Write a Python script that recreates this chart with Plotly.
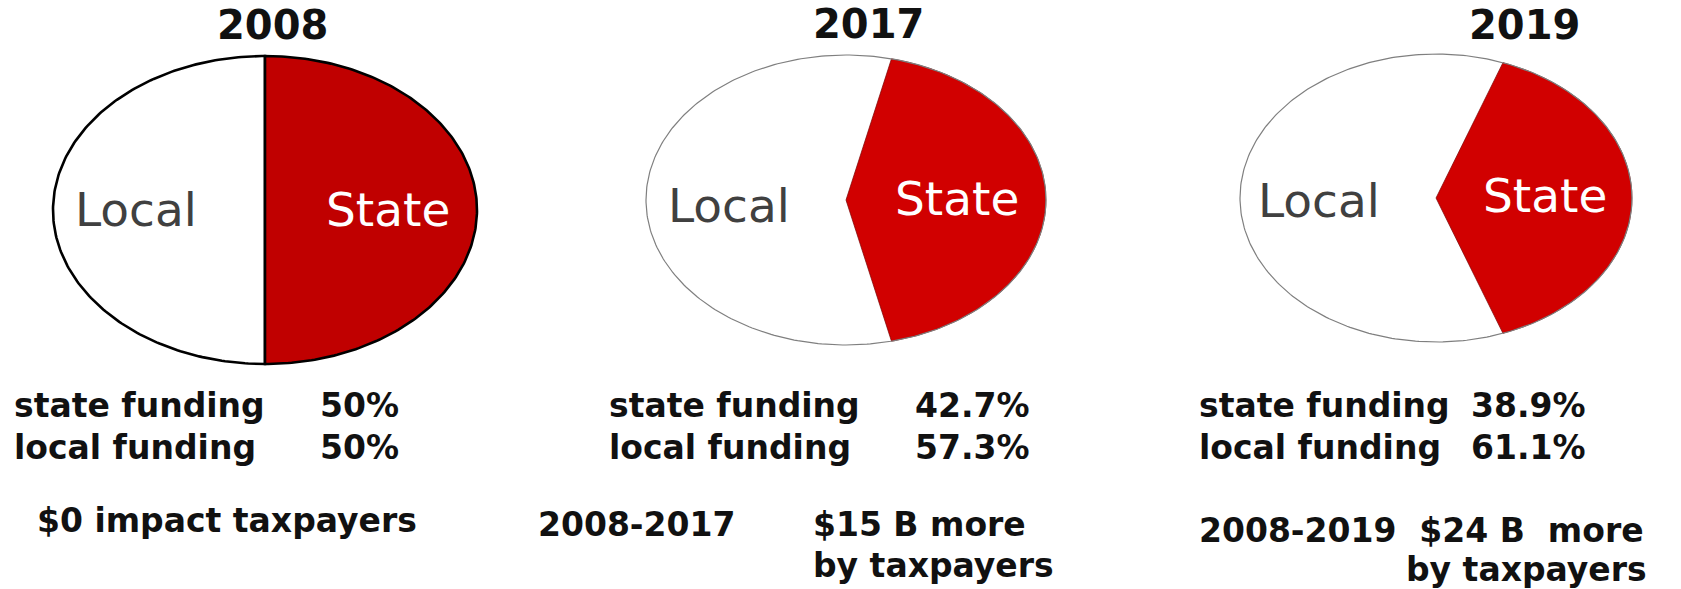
import numpy as np
import plotly.graph_objects as go

# Funding split per year (percent)
years = ["2008", "2017", "2019"]
state_share = [50.0, 42.7, 38.9]
local_share = [50.0, 57.3, 61.1]
state_text = ["50%", "42.7%", "38.9%"]
local_text = ["50%", "57.3%", "61.1%"]
impact_head = ["$0 impact taxpayers", "2008-2017", "2008-2019\u00a0 $24 B\u00a0 more"]
impact_tail = ["", "$15 B more", ""]
impact_line2 = ["", "by taxpayers", "by taxpayers"]

# Layout of each pie (pixel space): centre, radii, colours
W, H = 1681, 589
centers = [(265, 210), (846, 200), (1436, 198)]
radii = [(212, 154), (200, 145), (196, 144)]
red = ["#C00000", "#D10000", "#D10000"]
edge = ["#000000", "#7F7F7F", "#7F7F7F"]
edge_w = [2.6, 1.2, 1.2]

fig = go.Figure()


def wedge(cx, cy, rx, ry, a0, a1, n=200):
    a = np.radians(np.linspace(a0, a1, n))
    xs = np.concatenate([[cx], cx + rx * np.cos(a), [cx]])
    ys = np.concatenate([[cy], cy - ry * np.sin(a), [cy]])
    return xs, ys


for i, yr in enumerate(years):
    cx, cy = centers[i]
    rx, ry = radii[i]
    half = 360.0 * state_share[i] / 100.0 / 2.0
    # local slice (white), runs round the left side
    xs, ys = wedge(cx, cy, rx, ry, half, 360.0 - half)
    fig.add_trace(go.Scatter(
        x=xs, y=ys, mode="lines", fill="toself", fillcolor="white",
        line=dict(color=edge[i] if i == 0 else "rgba(0,0,0,0)", width=edge_w[i]),
        hoverinfo="skip", showlegend=False))
    # state slice (red), centred on the right
    xs, ys = wedge(cx, cy, rx, ry, -half, half)
    fig.add_trace(go.Scatter(
        x=xs, y=ys, mode="lines", fill="toself", fillcolor=red[i],
        line=dict(color=edge[i] if i == 0 else "#7A0000", width=edge_w[i] if i == 0 else 0.7),
        hoverinfo="skip", showlegend=False))
    if i > 0:
        a = np.radians(np.linspace(0, 360, 361))
        fig.add_trace(go.Scatter(
            x=cx + rx * np.cos(a), y=cy - ry * np.sin(a), mode="lines",
            line=dict(color=edge[i], width=edge_w[i]),
            hoverinfo="skip", showlegend=False))

# Titles and slice labels
title_pos = [(272, 1), (868, 0), (1524, 1)]
local_pos = [(136, 209), (729, 205), (1319, 200)]
state_pos = [(388, 209), (957, 198), (1545, 195)]
for i, yr in enumerate(years):
    fig.add_annotation(x=title_pos[i][0], y=title_pos[i][1], text=f"<b>{yr}</b>",
                       showarrow=False, xanchor="center", yanchor="top", borderpad=0,
                       font=dict(family="DejaVu Sans", size=40, color="#111111"))
    fig.add_annotation(x=local_pos[i][0], y=local_pos[i][1], text="Local",
                       showarrow=False, xanchor="center", yanchor="middle",
                       font=dict(family="DejaVu Sans", size=47, color="#404040"))
    fig.add_annotation(x=state_pos[i][0], y=state_pos[i][1], text="State",
                       showarrow=False, xanchor="center", yanchor="middle",
                       font=dict(family="DejaVu Sans", size=47, color="white"))

# Funding summary text beneath each pie
FS = 33
txt_font = dict(family="DejaVu Sans", size=FS, color="#111111")
label_x = [12, 607, 1197]
value_x = [318, 913, 1469]
row1_y, row2_y = 405, 447
head_pos = [(35, 520), (536, 524), (1197, 530)]
tail_pos = [None, (811, 524), None]
line2_pos = [None, (811, 565), (1404, 569)]


def put(x, y, s):
    fig.add_annotation(x=x, y=y, text=f"<b>{s}</b>", showarrow=False,
                       xanchor="left", yanchor="middle", font=txt_font)


for i in range(3):
    put(label_x[i], row1_y, "state funding")
    put(value_x[i], row1_y, state_text[i])
    put(label_x[i], row2_y, "local funding")
    put(value_x[i], row2_y, local_text[i])
    put(head_pos[i][0], head_pos[i][1], impact_head[i])
    if impact_tail[i]:
        put(tail_pos[i][0], tail_pos[i][1], impact_tail[i])
    if impact_line2[i]:
        put(line2_pos[i][0], line2_pos[i][1], impact_line2[i])

fig.update_layout(
    width=W, height=H, margin=dict(l=0, r=0, t=0, b=0),
    paper_bgcolor="white", plot_bgcolor="white",
    xaxis=dict(range=[0, W], visible=False, fixedrange=True),
    yaxis=dict(range=[H, 0], visible=False, fixedrange=True),
)

fig.write_html("out.html")
